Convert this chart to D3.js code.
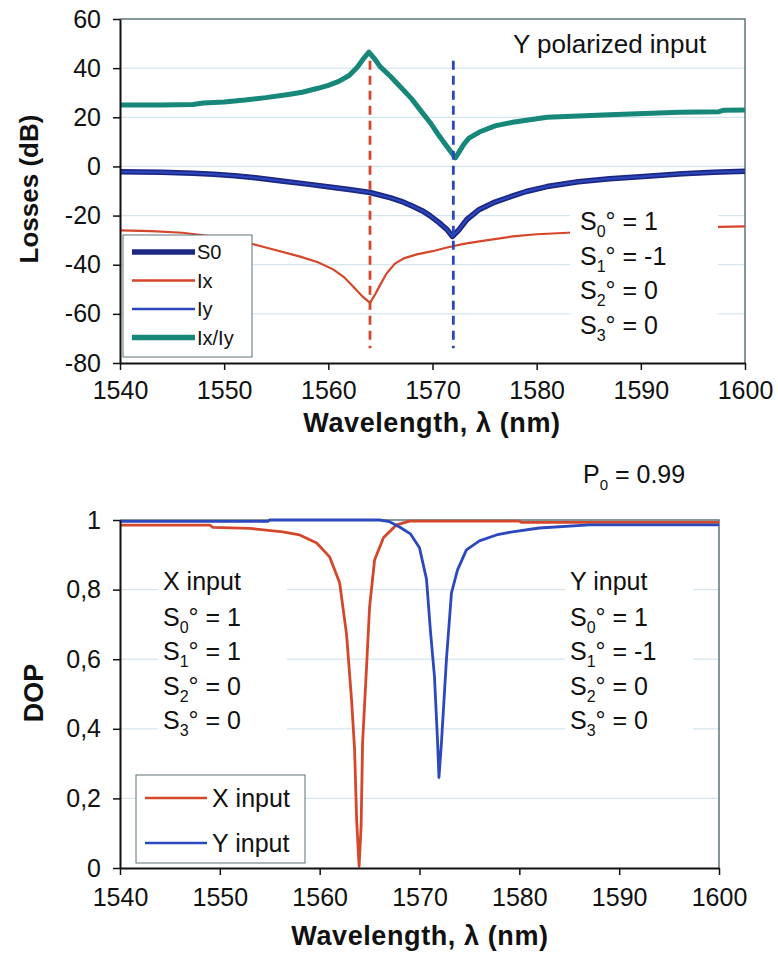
<!DOCTYPE html>
<html>
<head>
<meta charset="utf-8">
<script src="https://cdn.jsdelivr.net/npm/d3@7"></script>
<style>
    body { margin: 0; background: #fff; }
    svg { display: block; font-family: "Liberation Sans", Arial, Helvetica, sans-serif; }
    .tick text { font-size: 25px; fill: #111; }
    .tick line { stroke: #111; stroke-width: 1.5; }
    .domain { stroke: #111; stroke-width: 2; }
    .grid line { stroke: #d5e5ee; stroke-width: 1.2; }
</style>
</head>
<body>
<script>
"use strict";

// ---- data ----
let wlTicks = [1540, 1550, 1560, 1570, 1580, 1590, 1600];
let lossTicks = [-80, -60, -40, -20, 0, 20, 40, 60];
let dopTicks = [0, 0.2, 0.4, 0.6, 0.8, 1];

// resonance wavelengths (dashed markers) : Ix dip, Iy dip
let resonances = [1564, 1572];

// top panel, losses in dB  [wavelength nm, dB]
let ixIy = [[1540, 25.0], [1544, 25.0], [1547, 25.2], [1548, 25.8], [1550, 26.2], [1552, 27.0],
    [1554, 28.0], [1556, 29.2], [1557.5, 30.2], [1559, 31.8], [1560, 33.0], [1561, 34.6],
    [1562, 37.0], [1562.8, 40.5], [1563.4, 44.0], [1563.9, 46.5], [1564.4, 44.0], [1565, 40.5],
    [1566, 36.5], [1567, 32.0], [1568, 27.5], [1569, 22.0], [1569.75, 18.0], [1570.5, 13.3],
    [1571.4, 8.0], [1572.2, 3.5], [1573, 9.0], [1573.5, 11.5], [1574.5, 14.0], [1576, 16.5],
    [1577.7, 18.0], [1581, 20.0], [1587, 21.0], [1593.7, 22.0], [1597.5, 22.3], [1598, 22.9], [1600, 23.0]];

let s0 = [[1540, -2.2], [1544, -2.4], [1547, -2.8], [1549, -3.2], [1551, -3.8], [1553, -4.6],
    [1555.7, -6.0], [1558, -7.2], [1560.5, -8.6], [1562, -9.4], [1564, -10.6], [1566, -12.8],
    [1567, -14.2], [1568.1, -16.2], [1569, -18.0], [1569.75, -20.0], [1570.6, -22.8], [1571.4, -25.7],
    [1571.9, -28.5], [1572.5, -26.0], [1573.3, -21.6], [1574.5, -17.5], [1576, -14.5], [1577.7, -12.0],
    [1579, -10.2], [1581, -8.2], [1584, -6.2], [1587, -5.0], [1590.6, -4.0], [1594, -3.0],
    [1597, -2.4], [1600, -2.0]];

// Y input: Iy follows S0
let iy = s0.map(d => [d[0], d[1]]);

let ix = [[1540, -26.0], [1543, -26.3], [1546, -27.0], [1548, -28.0], [1551, -29.7], [1554, -33.0],
    [1557.3, -36.7], [1559, -39.0], [1560.5, -42.0], [1561.5, -45.0], [1562.4, -49.0], [1563.3, -53.0],
    [1564, -55.5], [1564.5, -52.0], [1565, -48.0], [1565.6, -43.5], [1566.4, -39.5], [1567.3, -37.3],
    [1568.5, -35.8], [1570, -34.5], [1571.4, -33.0], [1573, -31.5], [1574.5, -30.5], [1577.7, -28.5],
    [1580, -27.6], [1583, -27.0], [1586, -26.2], [1590, -25.5], [1595, -24.8], [1600, -24.4]];

// bottom panel, degree of polarisation
let dopX = [[1540, 0.985], [1549, 0.985], [1549.3, 0.979], [1553, 0.976], [1556.3, 0.966], [1558, 0.957],
    [1559.7, 0.934], [1561, 0.894], [1562, 0.82], [1562.7, 0.67], [1563.2, 0.48], [1563.5, 0.34],
    [1563.7, 0.14], [1563.95, 0.005], [1564.15, 0.12], [1564.3, 0.36], [1564.7, 0.58], [1565, 0.75],
    [1565.5, 0.885], [1566.4, 0.95], [1567.7, 0.986], [1569, 0.997], [1580, 0.997], [1580.2, 0.993],
    [1600, 0.993]];

let dopY = [[1540, 0.996], [1554.8, 0.996], [1555, 1.0], [1566, 1.0], [1567, 0.995], [1568, 0.98],
    [1569.1, 0.96], [1570, 0.92], [1570.7, 0.83], [1571.1, 0.68], [1571.5, 0.55], [1571.8, 0.37],
    [1571.95, 0.26], [1572.2, 0.36], [1572.7, 0.6], [1573.2, 0.79], [1573.8, 0.856], [1574.7, 0.914],
    [1576, 0.94], [1577.7, 0.957], [1579.3, 0.966], [1582, 0.977], [1587, 0.986], [1600, 0.986]];

let topLegend = ["S0", "Ix", "Iy", "Ix/Iy"];
let bottomLegend = ["X input", "Y input"];

// ---- drawing ----
let W = 778, H = 953;
let colors = {teal: "#17877a", navy: "#1c2784", blue: "#2b48bd", red: "#d4472b", frame: "#5f7379"};

let svg = d3.select("body").append("svg")
    .attr("width", W)
    .attr("height", H);

function stokesLine(g, x, y, sub, rest, size) {
    let t = g.append("text").attr("x", x).attr("y", y).style("font-size", size + "px").attr("fill", "#111");
    t.append("tspan").text("S");
    t.append("tspan").attr("dy", 7).style("font-size", Math.round(size * 0.62) + "px").text(sub);
    t.append("tspan").attr("dy", -7).text(rest);
    return t;
}

function frame(g, x, y) {
    let r = x.range(), d = y.range();
    g.append("path")
        .attr("d", `M${r[0]},${d[1]} H${r[1]} V${d[0]}`)
        .attr("fill", "none")
        .attr("stroke", colors.frame)
        .attr("stroke-width", 1.5);
}

function grid(g, x, y, ticks) {
    g.append("g").attr("class", "grid")
        .selectAll("line")
        .data(ticks.filter(t => t !== y.domain()[0] && t !== y.domain()[1]))
        .enter().append("line")
        .attr("x1", x.range()[0]).attr("x2", x.range()[1])
        .attr("y1", d => y(d)).attr("y2", d => y(d));
}

function axes(g, x, y, yTicks, yFmt, xPad) {
    g.append("g")
        .attr("transform", "translate(0," + y.range()[0] + ")")
        .call(d3.axisBottom(x).tickValues(wlTicks).tickFormat(d => String(d))
            .tickSize(7).tickSizeOuter(0).tickPadding(xPad));
    g.append("g")
        .attr("transform", "translate(" + x.range()[0] + ",0)")
        .call(d3.axisLeft(y).tickValues(yTicks).tickFormat(yFmt).tickSize(7).tickSizeOuter(0).tickPadding(12));
}

// ****************** top panel: losses ******************
let xTop = d3.scaleLinear().domain([1540, 1600]).range([120, 745]);
let yTop = d3.scaleLinear().domain([-80, 60]).range([363, 19]);
let topG = svg.append("g");

grid(topG, xTop, yTop, lossTicks);
frame(topG, xTop, yTop);

let lineTop = d3.line().x(d => xTop(d[0])).y(d => yTop(d[1]));

topG.append("path").datum(ix).attr("d", lineTop)
    .attr("fill", "none").attr("stroke", colors.red).attr("stroke-width", 2.2);
topG.append("path").datum(s0).attr("d", lineTop)
    .attr("fill", "none").attr("stroke", colors.navy).attr("stroke-width", 5.5).attr("stroke-linejoin", "round");
topG.append("path").datum(iy).attr("d", lineTop)
    .attr("fill", "none").attr("stroke", colors.blue).attr("stroke-width", 2);
topG.append("path").datum(ixIy).attr("d", lineTop)
    .attr("fill", "none").attr("stroke", colors.teal).attr("stroke-width", 5).attr("stroke-linejoin", "round");

// dashed resonance markers
topG.selectAll("line.res")
    .data(resonances)
    .enter().append("line")
    .attr("class", "res")
    .attr("x1", d => xTop(d)).attr("x2", d => xTop(d))
    .attr("y1", yTop(43)).attr("y2", yTop(-74))
    .attr("stroke", (d, i) => i === 0 ? colors.red : colors.blue)
    .attr("stroke-width", 2.8)
    .attr("stroke-dasharray", "9,6");

axes(topG, xTop, yTop, lossTicks, d => String(d), 11);

topG.append("text")
    .attr("x", 513).attr("y", 53)
    .style("font-size", "26px").attr("fill", "#111")
    .text("Y polarized input");

// Stokes box (white background hides the Ix curve)
let sBox = topG.append("g");
sBox.append("rect").attr("x", 570).attr("y", 203).attr("width", 148).attr("height", 140).attr("fill", "#fff");
[["0", "° = 1"], ["1", "° = -1"], ["2", "° = 0"], ["3", "° = 0"]].forEach(function (s, i) {
    stokesLine(sBox, 580, 230 + i * 34.5, s[0], s[1], 25);
});

// legend
let legTop = topG.append("g");
legTop.append("rect").attr("x", 123).attr("y", 235).attr("width", 129).attr("height", 122)
    .attr("fill", "#fff").attr("stroke", colors.frame).attr("stroke-width", 1);
let legStyles = [[colors.navy, 5.5], [colors.red, 2.5], [colors.blue, 2.5], [colors.teal, 5.5]];
topLegend.forEach(function (name, i) {
    let ly = 252 + i * 28.5;
    legTop.append("line").attr("x1", 132).attr("x2", 195).attr("y1", ly).attr("y2", ly)
        .attr("stroke", legStyles[i][0]).attr("stroke-width", legStyles[i][1]);
    legTop.append("text").attr("x", 197).attr("y", ly).attr("dy", "0.36em")
        .style("font-size", "20px").attr("fill", "#111").text(name);
});

topG.append("text")
    .attr("transform", "translate(38,189) rotate(-90)")
    .attr("text-anchor", "middle")
    .style("font-size", "26px").style("font-weight", "bold").attr("fill", "#111")
    .text("Losses (dB)");

topG.append("text")
    .attr("x", 432).attr("y", 432)
    .attr("text-anchor", "middle")
    .style("font-size", "27px").style("font-weight", "bold").style("letter-spacing", "0.6px").attr("fill", "#111")
    .text("Wavelength, λ (nm)");

// ****************** bottom panel: DOP ******************
let xBot = d3.scaleLinear().domain([1540, 1600]).range([120, 719]);
let yBot = d3.scaleLinear().domain([0, 1]).range([868, 520]);
let botG = svg.append("g");

grid(botG, xBot, yBot, dopTicks);
frame(botG, xBot, yBot);

// text blocks with white backgrounds
botG.append("rect").attr("x", 158).attr("y", 565).attr("width", 129).attr("height", 175).attr("fill", "#fff");
botG.append("rect").attr("x", 565).attr("y", 565).attr("width", 128).attr("height", 175).attr("fill", "#fff");

let lineBot = d3.line().x(d => xBot(d[0])).y(d => yBot(d[1]));
botG.append("path").datum(dopX).attr("d", lineBot)
    .attr("fill", "none").attr("stroke", colors.red).attr("stroke-width", 2.8).attr("stroke-linejoin", "round");
botG.append("path").datum(dopY).attr("d", lineBot)
    .attr("fill", "none").attr("stroke", colors.blue).attr("stroke-width", 2.8).attr("stroke-linejoin", "round");

axes(botG, xBot, yBot, dopTicks, d => (d === 0 || d === 1) ? String(d) : String(d).replace(".", ","), 13);

let inputs = [[163, "X input", "° = 1"], [570, "Y input", "° = -1"]];
inputs.forEach(function (b) {
    botG.append("text").attr("x", b[0]).attr("y", 590)
        .style("font-size", "25px").attr("fill", "#111").text(b[1]);
    stokesLine(botG, b[0], 626, "0", "° = 1", 25);
    stokesLine(botG, b[0], 660, "1", b[2], 25);
    stokesLine(botG, b[0], 695, "2", "° = 0", 25);
    stokesLine(botG, b[0], 729, "3", "° = 0", 25);
});

// P0 label
let p0 = botG.append("text").attr("x", 583).attr("y", 483).style("font-size", "25px").attr("fill", "#111");
p0.append("tspan").text("P");
p0.append("tspan").attr("dy", 7).style("font-size", "15px").text("0");
p0.append("tspan").attr("dy", -7).text(" = 0.99");

let legBot = botG.append("g");
legBot.append("rect").attr("x", 136).attr("y", 775).attr("width", 169).attr("height", 88)
    .attr("fill", "#fff").attr("stroke", colors.frame).attr("stroke-width", 1);
bottomLegend.forEach(function (name, i) {
    let ly = 798 + i * 45;
    legBot.append("line").attr("x1", 145).attr("x2", 207).attr("y1", ly).attr("y2", ly)
        .attr("stroke", i === 0 ? colors.red : colors.blue).attr("stroke-width", 2.5);
    legBot.append("text").attr("x", 212).attr("y", ly).attr("dy", "0.36em")
        .style("font-size", "25px").attr("fill", "#111").text(name);
});

botG.append("text")
    .attr("transform", "translate(43,693) rotate(-90)")
    .attr("text-anchor", "middle")
    .style("font-size", "27px").style("font-weight", "bold").attr("fill", "#111")
    .text("DOP");

botG.append("text")
    .attr("x", 420).attr("y", 945)
    .attr("text-anchor", "middle")
    .style("font-size", "27px").style("font-weight", "bold").style("letter-spacing", "0.6px").attr("fill", "#111")
    .text("Wavelength, λ (nm)");
</script>
</body>
</html>
